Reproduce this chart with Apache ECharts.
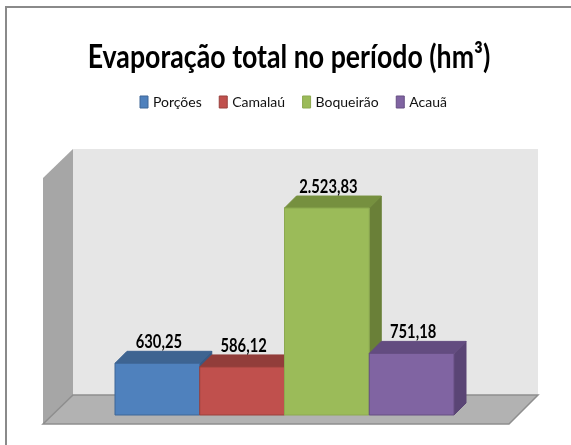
<!DOCTYPE html>
<html><head><meta charset="utf-8">
<style>html,body{margin:0;padding:0;background:#fff}#c{width:571px;height:445px}</style>
<script src="https://cdn.jsdelivr.net/npm/echarts@6/dist/echarts.min.js"></script></head>
<body><div id="c"></div>
<script>
const categories = ['Porções','Camalaú','Boqueirão','Acauã'];
const values = [630.25, 586.12, 2523.83, 751.18];
const valueLabels = ['630,25','586,12','2.523,83','751,18'];
const chartTitle = 'Evaporação total no período (hm³)';
const frontColors = ['#4F81BD','#C0504D','#9BBB59','#8064A2'];
const topColors = ['#3E6491','#923D3A','#76903F','#634C80'];
const sideColors = ['#375A85','#843633','#6A8038','#5A4575'];
const edgeColors = ['#3F6797','#9A403D','#8CA950','#664F82'];
const DEPTH = 12;
const FONT = 'Lato,"Open Sans",sans-serif';

function renderBar(i){
  return function(params, api){
    const p = api.coord([api.value(0), api.value(1)]);
    const b = api.coord([api.value(0), 0]);
    const w = api.size([1,0])[0];
    const x0 = p[0]-w/2, x1 = p[0]+w/2, yT = p[1], yB = b[1], d = DEPTH;
    const poly = (pts, fill, stroke)=>({type:'polygon',shape:{points:pts},style:{fill,stroke:stroke||fill,lineWidth:1}});
    return {type:'group',children:[
      poly([[x1,yT],[x1+d,yT-d],[x1+d,yB-d],[x1,yB]], sideColors[i]),
      poly([[x0,yT],[x0+d,yT-d],[x1+d,yT-d],[x1,yT]], topColors[i]),
      poly([[x0,yT],[x1,yT],[x1,yB],[x0,yB]], frontColors[i], edgeColors[i]),
      {type:'text',x:p[0]+1.5,y:yT-d-9,scaleX:0.82,style:{text:valueLabels[i],fill:'#000',font:'bold 18px '+FONT,align:'center',verticalAlign:'middle'}}
    ]};
  };
}

const chart = echarts.init(document.getElementById('c'),null,{renderer:'canvas'});
chart.setOption({
  animation:false,
  backgroundColor:'#fff',
  legend:{left:139.5,top:95,itemWidth:8,itemHeight:12,itemGap:17,icon:'rect',padding:0,
    data:categories.map((n,i)=>({name:n,itemStyle:{color:frontColors[i],borderColor:edgeColors[i],borderWidth:1}})),
    textStyle:{fontFamily:FONT,fontSize:14,color:'#111'}},
  grid:{left:115,width:339,top:169,height:246},
  xAxis:{type:'category',data:categories,show:false},
  yAxis:{type:'value',min:0,max:3000,interval:500,show:false},
  graphic:[
    {type:'polyline',shape:{points:[[6,445],[6,7],[571,7]]},style:{stroke:'#8a8a8a',lineWidth:2,fill:null},z:-5},
    {type:'text',x:289,y:57,scaleX:0.81,z:5,style:{text:chartTitle,fill:'#000',font:'bold 33px '+FONT,align:'center',verticalAlign:'middle'}},
    {type:'polygon',shape:{points:[[73,149],[538,149],[538,395],[73,395]]},style:{fill:'#E6E6E6'},z:-5},
    {type:'polygon',shape:{points:[[43,178],[73,149],[73,395],[43,424]]},style:{fill:'#A6A6A6'},z:-5},
    {type:'polygon',shape:{points:[[43,424],[73,395],[538,395],[509,424]]},style:{fill:'#B2B2B2',stroke:'#8e8e8e',lineWidth:1.5},z:-5}
  ],
  series:categories.map((n,i)=>({
    type:'custom',name:n,renderItem:renderBar(i),coordinateSystem:'cartesian2d',
    encode:{x:0,y:1},data:[[i,values[i]]],z:2+i,itemStyle:{color:frontColors[i]},clip:false
  }))
});
</script></body></html>
